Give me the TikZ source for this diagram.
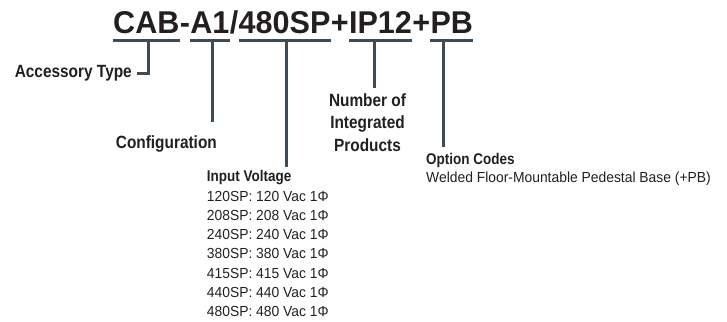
\documentclass[tikz,border=0pt]{standalone}
\usepackage{fontspec}
\setmainfont{Liberation Sans}
\newfontfamily\titlef[FakeStretch=0.97]{Liberation Sans Bold}
\newfontfamily\condbf[FakeStretch=0.87]{Liberation Sans Bold}
\newfontfamily\headbf[FakeStretch=0.87]{Liberation Sans Bold}
\newfontfamily\bodyf[FakeStretch=0.95]{Liberation Sans}
\definecolor{ink}{HTML}{231F20}
\definecolor{slate}{HTML}{3E4C5A}
\tikzset{
  titletext/.style={font=\titlef\fontsize{31.5}{36}\selectfont, text=ink, inner sep=0pt, anchor=base west},
  lab/.style={font=\condbf\fontsize{17.7}{20}\selectfont, text=ink, inner sep=0pt},
  headtext/.style={font=\headbf\fontsize{15.5}{18}\selectfont, text=ink, inner sep=0pt, anchor=base west},
  bodytext/.style={font=\bodyf\fontsize{14.6}{17}\selectfont, text=ink, inner sep=0pt, anchor=base west},
  conn/.style={draw=slate, line width=3pt},
}
\begin{document}
\begin{tikzpicture}[x=1pt,y=-1pt]
\useasboundingbox (0,0) rectangle (727,321);
% title pieces
\node[titletext] (cab) at (113,34) {CAB};
\node[titletext] (d1) at (cab.base east) {-};
\node[titletext] (a1) at (d1.base east) {A1};
\node[titletext] (sl) at (a1.base east) {/};
\node[titletext] (volt) at (sl.base east) {480SP};
\node[titletext] (p1) at (volt.base east) {+};
\node[titletext] (ip) at (p1.base east) {IP12};
\node[titletext] (p2) at (ip.base east) {+};
\node[titletext] (pb) at (p2.base east) {PB};
% underlines
\foreach \s in {cab,a1,volt,ip,pb}
  \draw[conn] (\s.west |- 0,41) -- (\s.east |- 0,41);
% labels
\node[lab, anchor=base east] (acc) at (132,77.5) {Accessory Type};
\node[lab, anchor=base west] (cfg) at (115.7,148) {Configuration};
\node[lab, anchor=base] (num1) at (367.5,106.7) {Number of};
\node[lab, anchor=base] (num2) at (367.5,128.9) {Integrated};
\node[lab, anchor=base] (num3) at (367.5,151.1) {Products};
\node[headtext] (ivh) at (206.7,181.7) {Input Voltage};
\foreach \v [count=\i] in {120,208,240,380,415,440,480}
  \node[bodytext] (iv\i) at (206.7,{182.2+19.17*\i}) {\v SP: \v{} Vac 1Φ};
\node[headtext] (och) at (426,164) {Option Codes};
\node[bodytext] (oc1) at (426,182.7) {Welded Floor-Mountable Pedestal Base (+PB)};
% connectors
\coordinate (c1) at (148,41);
\coordinate (c2) at (212,41);
\coordinate (c3) at (286,41);
\coordinate (c4) at (374,41);
\coordinate (c5) at (443.5,41);
\draw[conn] (c1) |- ([xshift=5pt]acc.east);
\draw[conn, shorten >=12.5pt] (c2) -- (c2 |- cfg.north);
\draw[conn, shorten >=3.5pt] (c3) -- (c3 |- ivh.north);
\draw[conn, shorten >=6pt] (c4) -- (c4 |- num1.north);
\draw[conn, shorten >=6pt] (c5) -- (c5 |- och.north);
\end{tikzpicture}
\end{document}
